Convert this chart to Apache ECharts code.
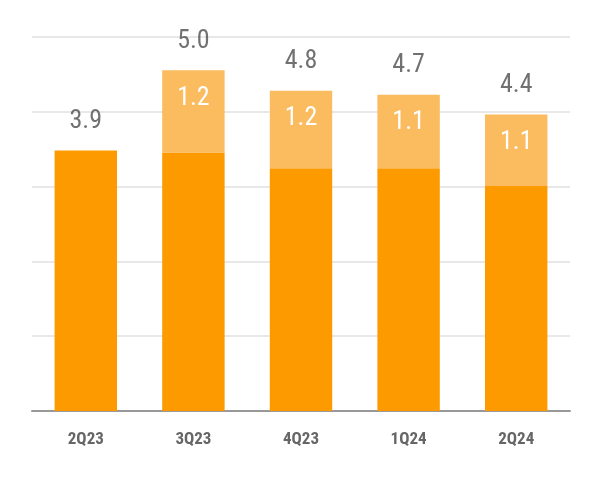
<!DOCTYPE html>
<html>
<head>
<meta charset="utf-8">
<script src="https://cdn.jsdelivr.net/npm/echarts@6/dist/echarts.min.js"></script>
<style>
  html, body { margin: 0; padding: 0; background: #fff; }
  #main { width: 600px; height: 480px; }
</style>
</head>
<body>
<div id="main"></div>
<script>
var quarters = ['2Q23', '3Q23', '4Q23', '1Q24', '2Q24'];
var baseValues = [3.83, 3.80, 3.57, 3.57, 3.31];
var extraValues = [null, 1.21, 1.14, 1.08, 1.05];
var extraLabels = ['', '1.2', '1.2', '1.1', '1.1'];
var totalLabels = ['3.9', '5.0', '4.8', '4.7', '4.4'];

var stackTops = baseValues.map(function (v, i) { return v + (extraValues[i] || 0); });

var narrow = '"Roboto Condensed", "Liberation Sans Narrow", Roboto, sans-serif';

var chart = echarts.init(document.getElementById('main'));

option = {
    animation: false,
    grid: { left: 32, right: 30, top: 37, bottom: 69 },
    xAxis: {
        type: 'category',
        data: quarters,
        axisTick: { show: false },
        axisLine: { lineStyle: { color: '#999', width: 2 } },
        axisLabel: {
            margin: 20,
            fontFamily: narrow,
            fontWeight: 'bold',
            fontSize: 17,
            color: '#666'
        }
    },
    yAxis: {
        type: 'value',
        min: 0,
        max: 5.5,
        interval: 1.1,
        axisLabel: { show: false },
        axisLine: { show: false },
        axisTick: { show: false },
        splitLine: { lineStyle: { color: '#e8e8e8', width: 2 } }
    },
    series: [
        {
            name: 'base',
            type: 'bar',
            stack: 'q',
            barWidth: '58%',
            itemStyle: { color: '#fd9a00' },
            data: baseValues
        },
        {
            name: 'extra',
            type: 'bar',
            stack: 'q',
            itemStyle: { color: '#fbbb5f' },
            label: {
                show: true,
                position: 'insideTop',
                distance: 15,
                fontFamily: narrow,
                fontSize: 26,
                color: '#fff',
                formatter: function (p) { return extraLabels[p.dataIndex]; }
            },
            data: extraValues
        },
        {
            name: 'total',
            type: 'scatter',
            symbolSize: 0,
            silent: true,
            label: {
                show: true,
                position: 'top',
                distance: 16,
                fontFamily: narrow,
                fontSize: 26,
                color: '#4d4d4d',
                formatter: function (p) { return totalLabels[p.dataIndex]; }
            },
            data: stackTops
        }
    ]
};

chart.setOption(option);
</script>
</body>
</html>
